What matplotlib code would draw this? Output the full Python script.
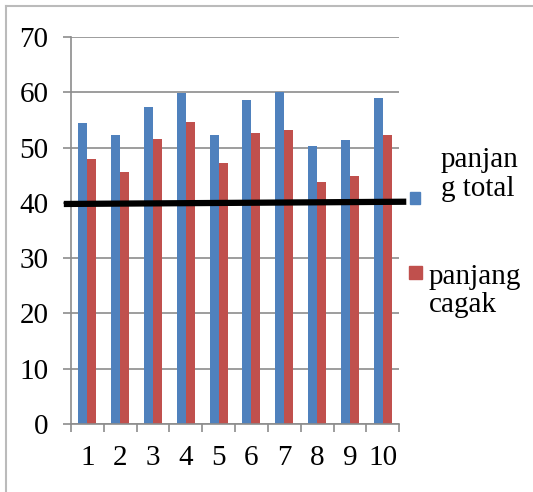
import matplotlib
matplotlib.use("Agg")
import matplotlib.pyplot as plt
from matplotlib.lines import Line2D
import numpy as np

# data
categories = ['1', '2', '3', '4', '5', '6', '7', '8', '9', '10']
panjang_total = [54.5, 52.2, 57.4, 59.9, 52.3, 58.6, 60.1, 50.2, 51.4, 58.9]
panjang_cagak = [48.0, 45.5, 51.5, 54.7, 47.2, 52.6, 53.2, 43.8, 44.8, 52.3]
trend_x = [0.38, 10.62]
trend_y = [39.8, 40.2]

plt.rcParams['font.family'] = 'serif'
plt.rcParams['font.serif'] = ['Liberation Serif', 'DejaVu Serif']

fig = plt.figure(figsize=(5.33, 4.92), dpi=100)
ax = fig.add_axes([0.133, 0.138, 0.616, 0.787])

x = np.arange(1, len(categories) + 1)
w = 0.275
ax.bar(x - w / 2, panjang_total, w, color='#4F81BD', zorder=2)
ax.bar(x + w / 2, panjang_cagak, w, color='#C0504D', zorder=2)

ax.set_xlim(0.5, 10.5)
ax.set_ylim(0, 70)
ax.set_yticks(np.arange(0, 71, 10))
ax.set_xticks(x)
ax.set_xticklabels(categories)
ax.set_xticks(np.arange(0.5, 10.6, 1), minor=True)

# gridlines
ax.yaxis.grid(True, color='#8c8c8c', linewidth=1.2, zorder=1)
for s in ['top', 'right']:
    ax.spines[s].set_visible(False)
ax.spines['left'].set_color('#8c8c8c')
ax.spines['bottom'].set_color('#8c8c8c')
ax.spines['left'].set_linewidth(1.2)
ax.spines['bottom'].set_linewidth(1.2)
ax.tick_params(axis='y', length=5.8, color='#8c8c8c', width=1.2, labelsize=21, pad=10.5)
ax.tick_params(axis='x', which='major', length=0, labelsize=21, pad=15)
ax.tick_params(axis='x', which='minor', length=5.8, color='#8c8c8c', width=1.2)

# black line
ax.plot(trend_x, trend_y, color='black', linewidth=4.5, clip_on=False, zorder=3)

# legend drawn as figure text
fig.patches.append(plt.Rectangle((410 / 533, 1 - 204 / 492), 10 / 533, 12 / 492,
                                 transform=fig.transFigure, color='#4F81BD'))
fig.patches.append(plt.Rectangle((409 / 533, 1 - 279 / 492), 13 / 533, 13 / 492,
                                 transform=fig.transFigure, color='#C0504D'))
fig.text(441 / 533, 1 - 147 / 492, 'panjan\ng total', fontsize=21, va='top',
         ha='left', linespacing=1.16)
fig.text(429 / 533, 1 - 264 / 492, 'panjang\ncagak', fontsize=21, va='top',
         ha='left', linespacing=1.12)

# outer frame
fig.add_artist(Line2D([6 / 533, 6 / 533], [0, 1 - 6 / 492], transform=fig.transFigure,
                      color='#bbbbbb', linewidth=1.5))
fig.add_artist(Line2D([6 / 533, 1], [1 - 6 / 492, 1 - 6 / 492], transform=fig.transFigure,
                      color='#bbbbbb', linewidth=1.5))

fig.savefig('out.png', dpi=100)
